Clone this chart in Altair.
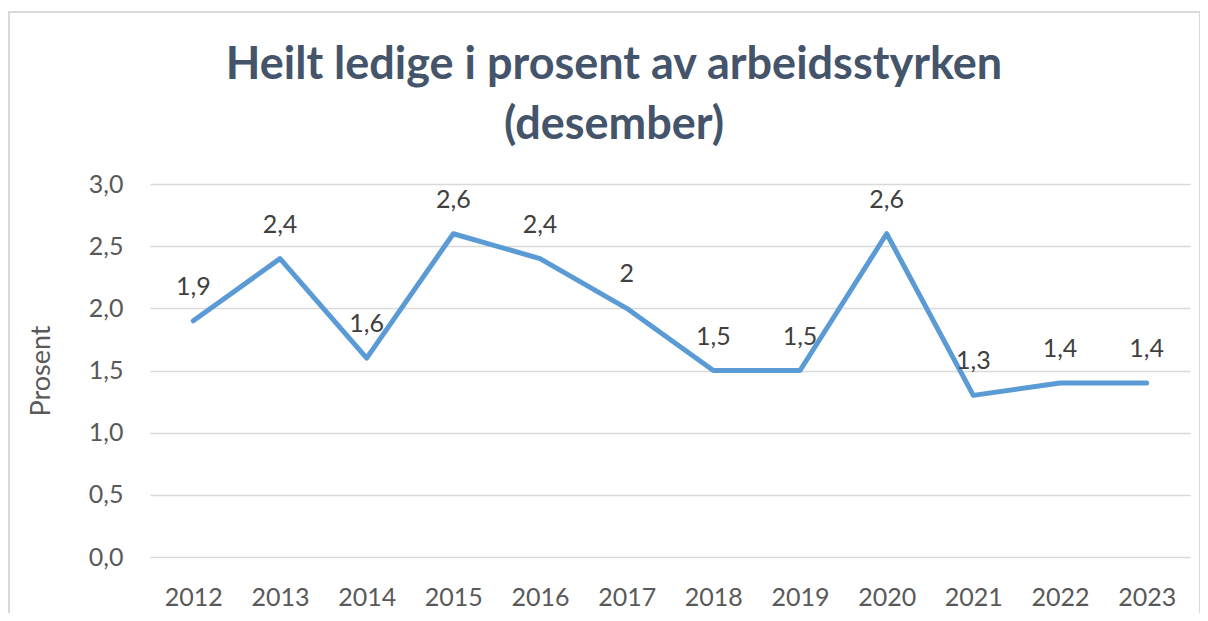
import altair as alt
import pandas as pd

years = ["2012", "2013", "2014", "2015", "2016", "2017", "2018", "2019", "2020", "2021", "2022", "2023"]
values = [1.9, 2.4, 1.6, 2.6, 2.4, 2.0, 1.5, 1.5, 2.6, 1.3, 1.4, 1.4]
labels = ["1,9", "2,4", "1,6", "2,6", "2,4", "2", "1,5", "1,5", "2,6", "1,3", "1,4", "1,4"]
y_ticks = [0.0, 0.5, 1.0, 1.5, 2.0, 2.5, 3.0]

df = pd.DataFrame({"year": years, "value": values, "label": labels})

FONT = "Lato"

x_enc = alt.X("year:O", sort=years, scale=alt.Scale(type="point", padding=0.5),
              axis=alt.Axis(title=None, labelAngle=0, labelFontSize=25, labelColor="#595959",
                            labelFont=FONT, labelPadding=28, domain=False, ticks=False, grid=False))
y_enc = alt.Y("value:Q", scale=alt.Scale(domain=[0, 3], nice=False),
              axis=alt.Axis(title="Prosent", values=y_ticks,
                            labelExpr="replace(format(datum.value, '.1f'), '.', ',')",
                            labelFontSize=25, labelColor="#595959", labelFont=FONT, labelPadding=27,
                            titleFont=FONT, titleFontSize=27, titleFontWeight="normal",
                            titleColor="#595959", titlePadding=33,
                            domain=False, ticks=False, grid=True, gridColor="#D9D9D9", gridWidth=1.5))

line = alt.Chart(df).mark_line(color="#5B9BD5", strokeWidth=5, strokeCap="round", strokeJoin="round").encode(
    x=x_enc, y=y_enc)

text = alt.Chart(df).mark_text(font=FONT, fontSize=25, color="#404040", dy=-34, baseline="middle").encode(
    x=alt.X("year:O", sort=years), y="value:Q", text="label:N")

border = alt.Chart(df).mark_rect(fill=None, stroke="#D9D9D9", strokeWidth=2).encode(
    x=alt.value(-141), x2=alt.value(1050), y=alt.value(-172), y2=alt.value(460))

chart = alt.layer(border, line, text).properties(
    width=1040, height=373,
    padding={"left": 142, "top": 176, "right": 10, "bottom": 56},
    autosize=alt.AutoSizeParams(type="none"),
    title=alt.TitleParams(text=["Heilt ledige i prosent av arbeidsstyrken", "(desember)"],
                          font=FONT, fontSize=45, fontWeight="bold", color="#44546A",
                          lineHeight=60, anchor="middle", dx=-56, offset=-137),
).configure_view(stroke=None)

chart.save("out.html", embed_options={"renderer": "svg", "actions": False})
